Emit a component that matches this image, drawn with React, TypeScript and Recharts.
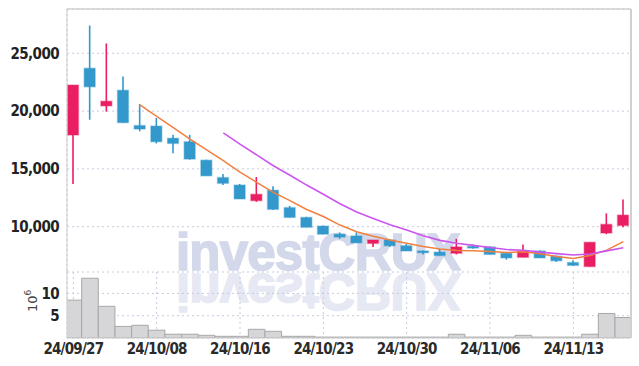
import React from 'react';
import { ComposedChart, BarChart, Bar, Line, XAxis, YAxis, CartesianGrid, ReferenceLine } from 'recharts';

const dates = ['24/09/27','24/09/30','24/10/02','24/10/04','24/10/07','24/10/08','24/10/10','24/10/11','24/10/14','24/10/15','24/10/16','24/10/17','24/10/18','24/10/21','24/10/22','24/10/23','24/10/24','24/10/25','24/10/28','24/10/29','24/10/30','24/10/31','24/11/01','24/11/04','24/11/05','24/11/06','24/11/07','24/11/08','24/11/11','24/11/12','24/11/13','24/11/14','24/11/15','24/11/18'];
const opens = [17930, 23700, 20450, 21800, 18750, 18700, 17650, 17350, 15750, 14250, 13600, 12250, 13150, 11650, 10800, 10050, 9350, 9200, 8550, 8850, 8350, 7900, 7800, 7700, 8300, 8250, 7700, 7350, 7900, 7450, 6900, 6550, 9450, 10100];
const closes = [22250, 22100, 20850, 19000, 18450, 17350, 17200, 15850, 14400, 13750, 12400, 12800, 11500, 10800, 9950, 9350, 9100, 8600, 8850, 8350, 7900, 7750, 7500, 8250, 8150, 7600, 7300, 7900, 7300, 7050, 6650, 8650, 10200, 11000];
const highs = [22250, 27400, 25850, 23000, 20600, 19400, 17950, 17950, 15800, 14550, 13700, 14300, 13500, 11800, 10850, 10100, 9500, 9500, 8850, 8900, 8500, 7950, 8050, 8950, 8450, 8300, 7750, 8450, 7950, 7500, 7100, 8650, 11150, 12350];
const lows = [13700, 19250, 19950, 19000, 18250, 17200, 16350, 15800, 14400, 13600, 12400, 12150, 11450, 10800, 9950, 9350, 8950, 8600, 8250, 8250, 7900, 7600, 7500, 7600, 8100, 7600, 7150, 7350, 7300, 6950, 6600, 6550, 9350, 9950];
const ma5 = [null, null, null, null, 20530, 19550, 18570, 17570, 16650, 15710, 14720, 13840, 12970, 12250, 11490, 10880, 10140, 9560, 9170, 8850, 8560, 8290, 8070, 7950, 7910, 7850, 7760, 7840, 7650, 7430, 7240, 7510, 7970, 8710];
const ma10 = [null, null, null, null, null, null, null, null, null, 18120, 17135, 16205, 15270, 14450, 13600, 12800, 11990, 11265, 10710, 10170, 9720, 9215, 8815, 8560, 8380, 8205, 8025, 7955, 7800, 7670, 7545, 7635, 7905, 8180];
const volumes = [8.5, 13.4, 7.1, 2.6, 2.85, 1.75, 0.85, 0.85, 0.6, 0.38, 0.38, 1.95, 1.5, 0.38, 0.38, 0.2, 0.2, 0.2, 0.2, 0.2, 0.2, 0.2, 0.2, 0.85, 0.2, 0.2, 0.2, 0.6, 0.2, 0.2, 0.2, 0.85, 5.5, 4.6];
const xTicks = [0, 5, 10, 15, 20, 25, 30];
const priceTicks = [10000, 15000, 20000, 25000];
const volTicks = [5, 10];

const XMIN = -0.38;
const XMAX = 33.46;
const RED = '#e91e63';
const BLUE = '#3399cc';
const GRID = '#c5cadf';
const FONT = "'DejaVu Sans Condensed', 'Liberation Sans Narrow', sans-serif";

const data = dates.map((d, i) => ({
  i,
  date: d,
  open: opens[i],
  close: closes[i],
  high: highs[i],
  low: lows[i],
  range: [lows[i], highs[i]],
  ma5: ma5[i],
  ma10: ma10[i],
  vol: volumes[i],
}));

const Candle = (props: any) => {
  const { x, y, width, height, payload } = props;
  if (!payload) return null;
  const { open, close, high, low } = payload;
  const toY = (v: number) => (high === low ? y : y + ((high - v) / (high - low)) * height);
  const cx = x + width / 2;
  const up = close >= open;
  const color = up ? RED : BLUE;
  const top = toY(Math.max(open, close));
  const bot = toY(Math.min(open, close));
  const bw = 11;
  return (
    <g>
      <line x1={cx} x2={cx} y1={y} y2={y + height} stroke={color} strokeWidth={1.6} />
      <rect x={cx - bw / 2} y={top} width={bw} height={Math.max(bot - top, 1.5)} fill={color} stroke={color} strokeOpacity={0.35} strokeWidth={1.5} />
    </g>
  );
};

const YTick = (props: any) => {
  const { x, y, payload, fmt } = props;
  return (
    <text x={x} y={y} dy="0.355em" textAnchor="end" style={{ fontFamily: FONT, fontSize: 15, fontWeight: 'bold', fill: '#222', letterSpacing: -0.6 }}>
      {fmt ? fmt(payload.value) : payload.value}
    </text>
  );
};

const XTick = (props: any) => {
  const { x, y, payload } = props;
  return (
    <text x={x} y={y} dy="0.71em" textAnchor="middle" style={{ fontFamily: FONT, fontSize: 15, fontWeight: 'bold', fill: '#2a2a2a', letterSpacing: -0.8 }}>
      {dates[payload.value]}
    </text>
  );
};

const fmtPrice = (v: number) => v.toLocaleString('en-US');

export default function App() {
  const wm = { fontFamily: "'Liberation Sans', Arial, sans-serif", fontSize: 51, fontWeight: 'bold' as const, letterSpacing: -0.8 };
  return (
    <div style={{ position: 'absolute', left: 0, top: 0, width: 639, height: 366 }}>
      <svg width={639} height={366} style={{ position: 'absolute', left: 0, top: 0 }}>
        <text x={176} y={270} style={{ ...wm, fill: '#d3d8ea', stroke: '#d3d8ea', strokeWidth: 1.6 }}>investCRUX</text>
        <text x={176} y={270} transform="translate(0,544) scale(1,-1)" style={{ ...wm, fill: '#e6e9f3', stroke: '#e6e9f3', strokeWidth: 1.6 }}>investCRUX</text>
      </svg>
      <div style={{ position: 'absolute', left: 0, top: 0 }}>
        <ComposedChart width={639} height={272} data={data} margin={{ top: 9, right: 8, left: 0, bottom: 0 }}>
          <CartesianGrid stroke={GRID} strokeDasharray="2 3" />
          <XAxis dataKey="i" type="number" domain={[XMIN, XMAX]} ticks={xTicks} interval={0} allowDataOverflow height={0} tick={false} tickLine={false} axisLine={{ stroke: '#ccc' }} />
          <YAxis type="number" domain={[6080, 28830]} ticks={priceTicks} interval={0} allowDataOverflow width={67} tickLine={false} axisLine={{ stroke: '#ccc' }} tick={<YTick fmt={fmtPrice} />} />
          <ReferenceLine y={28830} stroke="#d0d0d0" strokeWidth={1.5} ifOverflow="extendDomain" />
          <ReferenceLine x={XMAX} stroke="#d0d0d0" strokeWidth={2} ifOverflow="extendDomain" />
          <Bar dataKey="range" barSize={12} shape={<Candle />} isAnimationActive={false} />
          <Line dataKey="ma5" stroke="#f08040" strokeWidth={1.5} dot={false} isAnimationActive={false} />
          <Line dataKey="ma10" stroke="#cc55ee" strokeWidth={1.6} dot={false} isAnimationActive={false} />
        </ComposedChart>
      </div>
      <div style={{ position: 'absolute', left: 0, top: 272 }}>
        <BarChart width={639} height={94} data={data} margin={{ top: 0, right: 8, left: 0, bottom: 0 }}>
          <CartesianGrid stroke={GRID} strokeDasharray="2 3" />
          <XAxis dataKey="i" type="number" domain={[XMIN, XMAX]} ticks={xTicks} interval={0} allowDataOverflow height={28} tickSize={3} tickMargin={2} tickLine={false} axisLine={{ stroke: '#ccc' }} tick={<XTick />} />
          <YAxis type="number" domain={[0, 14.8]} ticks={volTicks} interval={0} allowDataOverflow width={67} tickLine={false} axisLine={{ stroke: '#ccc' }} tick={<YTick />} />
          <ReferenceLine x={XMAX} stroke="#d0d0d0" strokeWidth={2} ifOverflow="extendDomain" />
          <Bar dataKey="vol" barSize={16.6} fill="#d6d6d9" stroke="#a8a8a8" strokeWidth={1} isAnimationActive={false} />
        </BarChart>
      </div>
      <svg width={639} height={366} style={{ position: 'absolute', left: 0, top: 0, pointerEvents: 'none' }}>
        <text transform="translate(37,312) rotate(-90)" style={{ fontSize: 13, fontFamily: "'DejaVu Sans', sans-serif", fill: '#444' }}>10<tspan dy={-6} style={{ fontSize: 9 }}>6</tspan></text>
      </svg>
    </div>
  );
}
